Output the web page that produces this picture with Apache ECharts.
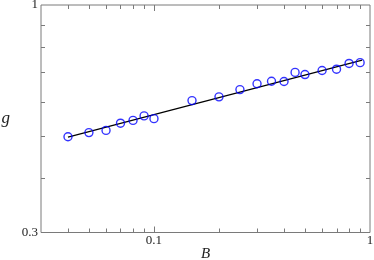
<!DOCTYPE html>
<html>
<head>
<meta charset="utf-8">
<script src="https://cdn.jsdelivr.net/npm/echarts@6/dist/echarts.min.js"></script>
<style>
html,body{margin:0;padding:0;background:#fff;}
#c{width:374px;height:260px;}
</style>
</head>
<body>
<div id="c"></div>
<script>
// Data
var bValues = [0.04, 0.05, 0.06, 0.07, 0.08, 0.09, 0.1, 0.15, 0.2, 0.25, 0.3, 0.35, 0.4, 0.45, 0.5, 0.6, 0.7, 0.8, 0.9];
var gValues = [0.498, 0.509, 0.515, 0.535, 0.543, 0.556, 0.548, 0.603, 0.615, 0.639, 0.659, 0.668, 0.667, 0.700, 0.692, 0.707, 0.712, 0.734, 0.737];
var fitB = [0.04, 0.92];
var fitG = [0.497, 0.747];
var xMinorTicks = [0.04, 0.05, 0.06, 0.07, 0.08, 0.09, 0.2, 0.3, 0.4, 0.5, 0.6, 0.7, 0.8, 0.9];
var xMajorTicks = [0.1];
var yMinorTicks = [0.4, 0.5, 0.6, 0.7, 0.8, 0.9];
var xLabels = ['0.1', '1'];
var yLabels = ['0.3', '1'];
var xMin = 0.03, xMax = 1, yMin = 0.3, yMax = 1;

var chart = echarts.init(document.getElementById('c'), null, {renderer: 'canvas'});
var axisGray = '#7a7a7a';

function labelFmt(list) {
  return function (v) {
    for (var i = 0; i < list.length; i++) {
      if (Math.abs(v - parseFloat(list[i])) < 1e-6 * parseFloat(list[i]) + 1e-9) return list[i];
    }
    return '';
  };
}

function tickSeries(values, axis, len) {
  return {
    type: 'custom',
    silent: true,
    clip: false,
    z: 1,
    data: values.map(function (v) { return axis === 'x' ? [v, yMin] : [xMin, v]; }),
    renderItem: function (params, api) {
      var style = {stroke: axisGray, lineWidth: 1};
      if (axis === 'x') {
        var v = api.value(0);
        var b = api.coord([v, yMin]);
        var t = api.coord([v, yMax]);
        var x = Math.round(b[0]) + 0.5;
        return {type: 'group', children: [
          {type: 'line', shape: {x1: x, y1: b[1], x2: x, y2: b[1] - len}, style: style},
          {type: 'line', shape: {x1: x, y1: t[1], x2: x, y2: t[1] + len}, style: style}
        ]};
      } else {
        var w = api.value(1);
        var l = api.coord([xMin, w]);
        var r = api.coord([xMax, w]);
        var y = Math.round(l[1]) + 0.5;
        return {type: 'group', children: [
          {type: 'line', shape: {x1: l[0], y1: y, x2: l[0] + len, y2: y}, style: style},
          {type: 'line', shape: {x1: r[0], y1: y, x2: r[0] - len, y2: y}, style: style}
        ]};
      }
    }
  };
}

var option = {
  animation: false,
  backgroundColor: '#fff',
  grid: {
    left: 41, right: 4, top: 5, bottom: 27.5,
    show: true, borderColor: axisGray, borderWidth: 1,
    containLabel: false, outerBoundsMode: 'none'
  },
  xAxis: {
    type: 'log', logBase: 10, min: xMin, max: xMax,
    axisLine: {show: false}, axisTick: {show: false}, splitLine: {show: false},
    axisLabel: {
      formatter: labelFmt(xLabels), showMinLabel: true, showMaxLabel: true,
      fontFamily: 'Liberation Serif', fontSize: 13, color: '#222', margin: 2
    },
    name: 'B', nameLocation: 'middle', nameGap: 14, nameMoveOverlap: false,
    nameTextStyle: {fontFamily: 'Liberation Serif', fontStyle: 'italic', fontSize: 15, color: '#222'}
  },
  yAxis: {
    type: 'log', logBase: 10, min: yMin, max: yMax,
    axisLine: {show: false}, axisTick: {show: false}, splitLine: {show: false},
    axisLabel: {
      formatter: labelFmt(yLabels), showMinLabel: true, showMaxLabel: true,
      fontFamily: 'Liberation Serif', fontSize: 13, color: '#222', margin: 3
    },
    name: 'g', nameLocation: 'middle', nameRotate: 0, nameGap: 31, nameMoveOverlap: false,
    nameTextStyle: {fontFamily: 'Liberation Serif', fontStyle: 'italic', fontSize: 17, color: '#222'}
  },
  series: [
    tickSeries(xMinorTicks, 'x', 4),
    tickSeries(xMajorTicks, 'x', 6),
    tickSeries(yMinorTicks, 'y', 4),
    {
      type: 'line',
      data: fitB.map(function (b, i) { return [b, fitG[i]]; }),
      showSymbol: false, symbol: 'none',
      lineStyle: {color: '#000', width: 1.2},
      z: 2
    },
    {
      type: 'scatter',
      data: bValues.map(function (b, i) { return [b, gValues[i]]; }),
      symbol: 'circle', symbolSize: 8,
      itemStyle: {color: 'rgba(0,0,0,0)', borderColor: '#0000ff', borderWidth: 1.4},
      z: 3
    }
  ]
};
chart.setOption(option);
</script>
</body>
</html>
